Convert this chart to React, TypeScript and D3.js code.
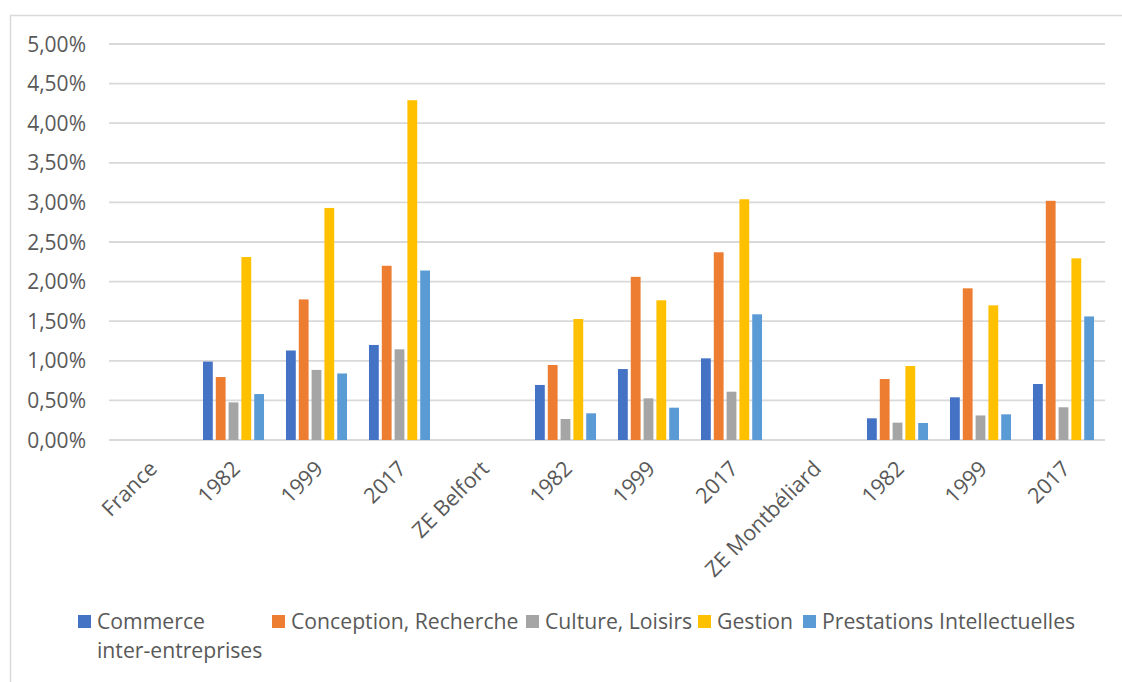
import React, { useEffect, useRef } from "react";
import * as d3 from "d3";

const categories = ["France", "1982", "1999", "2017", "ZE Belfort", "1982", "1999", "2017", "ZE Montbéliard", "1982", "1999", "2017"];
const seriesNames = ["Commerce inter-entreprises", "Conception, Recherche", "Culture, Loisirs", "Gestion", "Prestations Intellectuelles"];
const commerce = [null, 0.99, 1.13, 1.2, null, 0.695, 0.896, 1.031, null, 0.274, 0.539, 0.707];
const conception = [null, 0.795, 1.775, 2.2, null, 0.947, 2.06, 2.37, null, 0.77, 1.915, 3.02];
const culture = [null, 0.475, 0.885, 1.145, null, 0.265, 0.526, 0.61, null, 0.219, 0.31, 0.413];
const gestion = [null, 2.31, 2.93, 4.29, null, 1.528, 1.764, 3.04, null, 0.934, 1.7, 2.294];
const prestations = [null, 0.58, 0.84, 2.14, null, 0.337, 0.408, 1.587, null, 0.215, 0.324, 1.56];
const yTicks = [0, 0.5, 1, 1.5, 2, 2.5, 3, 3.5, 4, 4.5, 5];
const colors = ["#4472C4", "#ED7D31", "#A5A5A5", "#FFC000", "#5B9BD5"];

const W = 1122, H = 682;
const FONT = "'Open Sans', sans-serif";
const TEXT = "#595959";

export default function App() {
  const ref = useRef<SVGSVGElement>(null);
  useEffect(() => {
    document.body.style.margin = "0";
    const svg = d3.select(ref.current);
    svg.selectAll("*").remove();
    const allSeries = [commerce, conception, culture, gestion, prestations];

    const x = d3.scaleBand<number>().domain(d3.range(categories.length)).range([109, 1105]).padding(0);
    const xs = d3.scaleBand<number>().domain(d3.range(allSeries.length)).range([0, x.bandwidth()]).paddingInner(0).paddingOuter(0.74);
    const y = d3.scaleLinear().domain([0, 5]).range([440, 44]);

    // chart border
    svg.append("path").attr("d", `M10.5,${H} V15.5 H${W}`).attr("fill", "none").attr("stroke", "#d9d9d9").attr("stroke-width", 1.5);

    // gridlines
    svg.append("g").selectAll("line").data(yTicks).join("line")
      .attr("x1", 109).attr("x2", 1105)
      .attr("y1", d => y(d)).attr("y2", d => y(d))
      .attr("stroke", "#d9d9d9").attr("stroke-width", 1.8);

    // y labels
    const fmt = (v: number) => v.toFixed(2).replace(".", ",") + "%";
    svg.append("g").selectAll("text").data(yTicks).join("text")
      .attr("x", 86).attr("y", d => y(d) + 7.5)
      .attr("text-anchor", "end")
      .attr("font-family", FONT).attr("font-size", 21).attr("fill", TEXT)
      .text(d => fmt(d));

    // bars
    allSeries.forEach((vals, si) => {
      svg.append("g").selectAll("rect").data(vals.map((v, i) => ({ v, i })).filter(d => d.v != null)).join("rect")
        .attr("x", d => (x(d.i) as number) + (xs(si) as number) + 1.5)
        .attr("width", xs.bandwidth() - 3)
        .attr("y", d => y(d.v as number))
        .attr("height", d => 440 - y(d.v as number))
        .attr("fill", colors[si]);
    });

    // x labels
    svg.append("g").selectAll("text").data(categories.map((c, i) => ({ c, i }))).join("text")
      .attr("transform", d => `translate(${(x(d.i) as number) + x.bandwidth() / 2 + 8},470) rotate(-45)`)
      .attr("text-anchor", "end")
      .attr("font-family", FONT).attr("font-size", 21.5).attr("fill", TEXT)
      .text(d => d.c);

    // legend
    const legendX = [78, 272, 526, 698, 803];
    const lg = svg.append("g");
    seriesNames.forEach((name, i) => {
      lg.append("rect").attr("x", legendX[i]).attr("y", 615).attr("width", 13).attr("height", 13).attr("fill", colors[i]);
      const t = lg.append("text").attr("font-family", FONT).attr("font-size", 21.2).attr("fill", TEXT);
      if (i === 0) {
        t.append("tspan").attr("x", legendX[i] + 19).attr("y", 629).text("Commerce");
        t.append("tspan").attr("x", legendX[i] + 19).attr("y", 658).text("inter-entreprises");
      } else {
        t.attr("x", legendX[i] + 19).attr("y", 629).text(name);
      }
    });
  }, []);
  return (
    <div style={{ position: "absolute", left: 0, top: 0 }}>
      <svg ref={ref} width={W} height={H} style={{ display: "block", background: "#fff" }} />
    </div>
  );
}
